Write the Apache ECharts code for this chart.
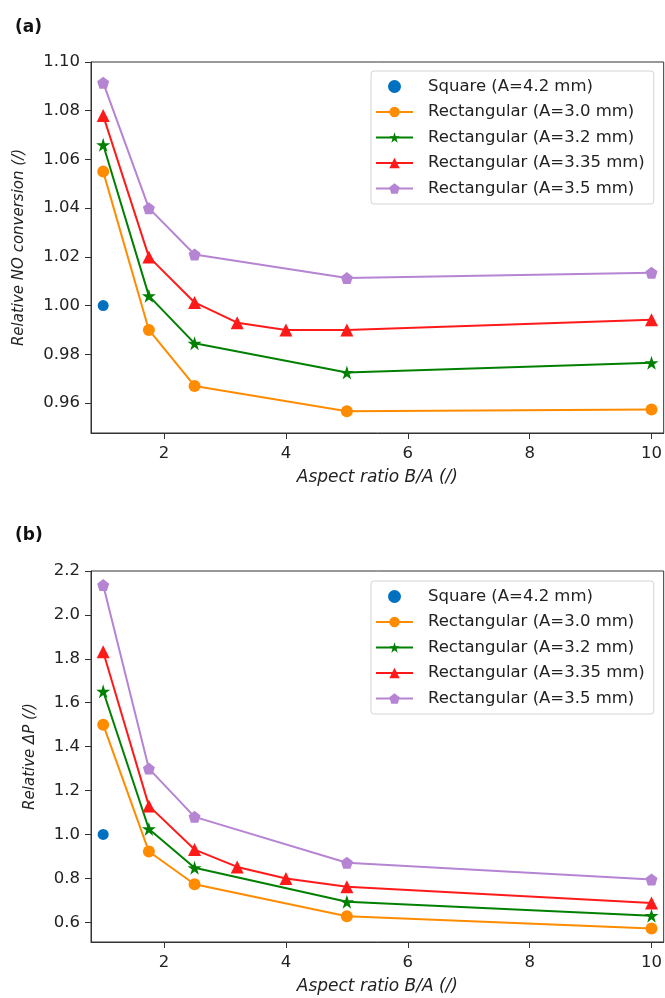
<!DOCTYPE html>
<html style="height: 100%;margin: 0;padding: 0;">
<head>
    <meta charset="utf-8">
    <title>Relative NO conversion and pressure drop</title>
    <script src="https://cdn.jsdelivr.net/npm/echarts@6/dist/echarts.min.js"></script>
</head>
<body style="height: 100%;margin: 0;padding: 0;background:#fff;">
<div id="main" style="width:665px;height:998px;"></div>
<script type="text/javascript">
    // aspect ratio B/A
    var xMain = [1, 1.75, 2.5, 5, 10];
    var xRed = [1, 1.75, 2.5, 3.2, 4, 5, 10];

    var names = ['Square (A=4.2 mm)', 'Rectangular (A=3.0 mm)', 'Rectangular (A=3.2 mm)',
                 'Rectangular (A=3.35 mm)', 'Rectangular (A=3.5 mm)'];

    // (a) relative NO conversion
    var noSquare = [1.000];
    var no30 = [1.055, 0.990, 0.967, 0.9566, 0.9573];
    var no32 = [1.066, 1.004, 0.9845, 0.9725, 0.9765];
    var no335 = [1.078, 1.020, 1.0013, 0.993, 0.990, 0.990, 0.9942];
    var no35 = [1.0915, 1.040, 1.021, 1.0113, 1.0135];

    // (b) relative pressure drop
    var dpSquare = [1.000];
    var dp30 = [1.50, 0.922, 0.773, 0.627, 0.571];
    var dp32 = [1.652, 1.025, 0.848, 0.693, 0.630];
    var dp335 = [1.832, 1.130, 0.931, 0.852, 0.799, 0.762, 0.688];
    var dp35 = [2.136, 1.300, 1.080, 0.871, 0.795];

    var xTicks = [2, 4, 6, 8, 10];
    var noTicks = [0.96, 0.98, 1.00, 1.02, 1.04, 1.06, 1.08, 1.10];
    var dpTicks = [0.6, 0.8, 1.0, 1.2, 1.4, 1.6, 1.8, 2.0, 2.2];

    var colors = ['#0070c0', '#ff8c00', '#008000', '#ff1a1a', '#b584d2'];
    var star = 'path://M50 0 L61.17 34.63 L97.55 34.55 L68.07 55.87 L79.39 90.45 L50 69 L20.61 90.45 L31.93 55.87 L2.45 34.55 L38.83 34.63 Z';
    var pentagon = 'path://M50 0 L97.55 34.55 L79.39 90.45 L20.61 90.45 L2.45 34.55 Z';
    var symbols = ['circle', 'circle', star, 'triangle', pentagon];
    var sizes = [11, 12, 14, 13, 12];

    function pairs(xs, ys) {
        var out = [];
        for (var i = 0; i < ys.length; i++) out.push([xs[i], ys[i]]);
        return out;
    }

    function makeSeries(idx, sets) {
        var arr = [];
        arr.push({
            name: names[0], type: 'scatter', xAxisIndex: idx, yAxisIndex: idx,
            symbol: 'circle', symbolSize: sizes[0],
            itemStyle: {color: colors[0], opacity: 1},
            data: pairs([1], sets[0])
        });
        for (var k = 1; k < 5; k++) {
            arr.push({
                name: names[k], type: 'line', xAxisIndex: idx, yAxisIndex: idx,
                symbol: symbols[k], symbolSize: sizes[k],
                itemStyle: {color: colors[k], opacity: 1},
                lineStyle: {color: colors[k], width: 2},
                data: pairs(k == 3 ? xRed : xMain, sets[k])
            });
        }
        return arr;
    }

    var txt = '#222';
    function xAxisOf(idx) {
        return {
            type: 'value', gridIndex: idx, min: 0.8, max: 10.2,
            name: 'Aspect ratio B/A (/)', nameLocation: 'middle', nameGap: 36,
            nameTextStyle: {fontFamily: 'DejaVu Sans', fontStyle: 'italic', fontSize: 17, color: txt},
            axisLine: {show: true, lineStyle: {color: '#333'}},
            axisTick: {show: true, length: 6, customValues: xTicks, lineStyle: {color: '#333'}},
            axisLabel: {customValues: xTicks, margin: 12, fontFamily: 'DejaVu Sans', fontSize: 16.5, color: txt},
            splitLine: {show: false}
        };
    }
    function yAxisOf(idx, ticks, lo, hi, digits, title, gap) {
        return {
            type: 'value', gridIndex: idx, min: lo, max: hi,
            name: title, nameLocation: 'middle', nameGap: gap,
            nameTextStyle: {fontFamily: 'DejaVu Sans', fontStyle: 'italic', fontSize: 15, color: txt},
            axisLine: {show: true, lineStyle: {color: '#333'}},
            axisTick: {show: true, length: 6, customValues: ticks, lineStyle: {color: '#333'}},
            axisLabel: {customValues: ticks, margin: 11, fontFamily: 'DejaVu Sans', fontSize: 16.5, color: txt,
                formatter: function (v) { return v.toFixed(digits); }},
            splitLine: {show: false}
        };
    }
    function legendOf(top) {
        return {
            orient: 'vertical', left: 371, top: top,
            data: names, selectedMode: false,
            itemWidth: 37, itemHeight: 13, itemGap: 8.5,
            padding: [7, 9, 7, 4],
            backgroundColor: 'rgba(255,255,255,0.8)',
            borderColor: '#d4d4d4', borderWidth: 1, borderRadius: 3,
            textStyle: {fontFamily: 'DejaVu Sans', fontSize: 16.5, lineHeight: 17, color: txt, padding: [0, 0, 0, 10]}
        };
    }

    var myChart = echarts.init(document.getElementById('main'));
    var option = {
        backgroundColor: '#fff',
        animation: false,
        title: [
            {text: '(a)', left: 10, top: 14, textStyle: {fontFamily: 'DejaVu Sans', fontWeight: 'bold', fontSize: 17, color: '#111'}},
            {text: '(b)', left: 10, top: 522, textStyle: {fontFamily: 'DejaVu Sans', fontWeight: 'bold', fontSize: 17, color: '#111'}}
        ],
        legend: [legendOf(71), legendOf(581)],
        grid: [
            {left: 91, top: 62, right: 1, bottom: 565, show: true, borderColor: '#333', borderWidth: 1},
            {left: 91, top: 571, right: 1, bottom: 56, show: true, borderColor: '#333', borderWidth: 1}
        ],
        xAxis: [xAxisOf(0), xAxisOf(1)],
        yAxis: [
            yAxisOf(0, noTicks, 0.9477, 1.10, 2, 'Relative NO conversion (/)', 64),
            yAxisOf(1, dpTicks, 0.51, 2.2, 1, 'Relative \u0394P (/)', 53)
        ],
        series: makeSeries(0, [noSquare, no30, no32, no335, no35])
            .concat(makeSeries(1, [dpSquare, dp30, dp32, dp335, dp35]))
    };
    myChart.setOption(option);
</script>
</body>
</html>
